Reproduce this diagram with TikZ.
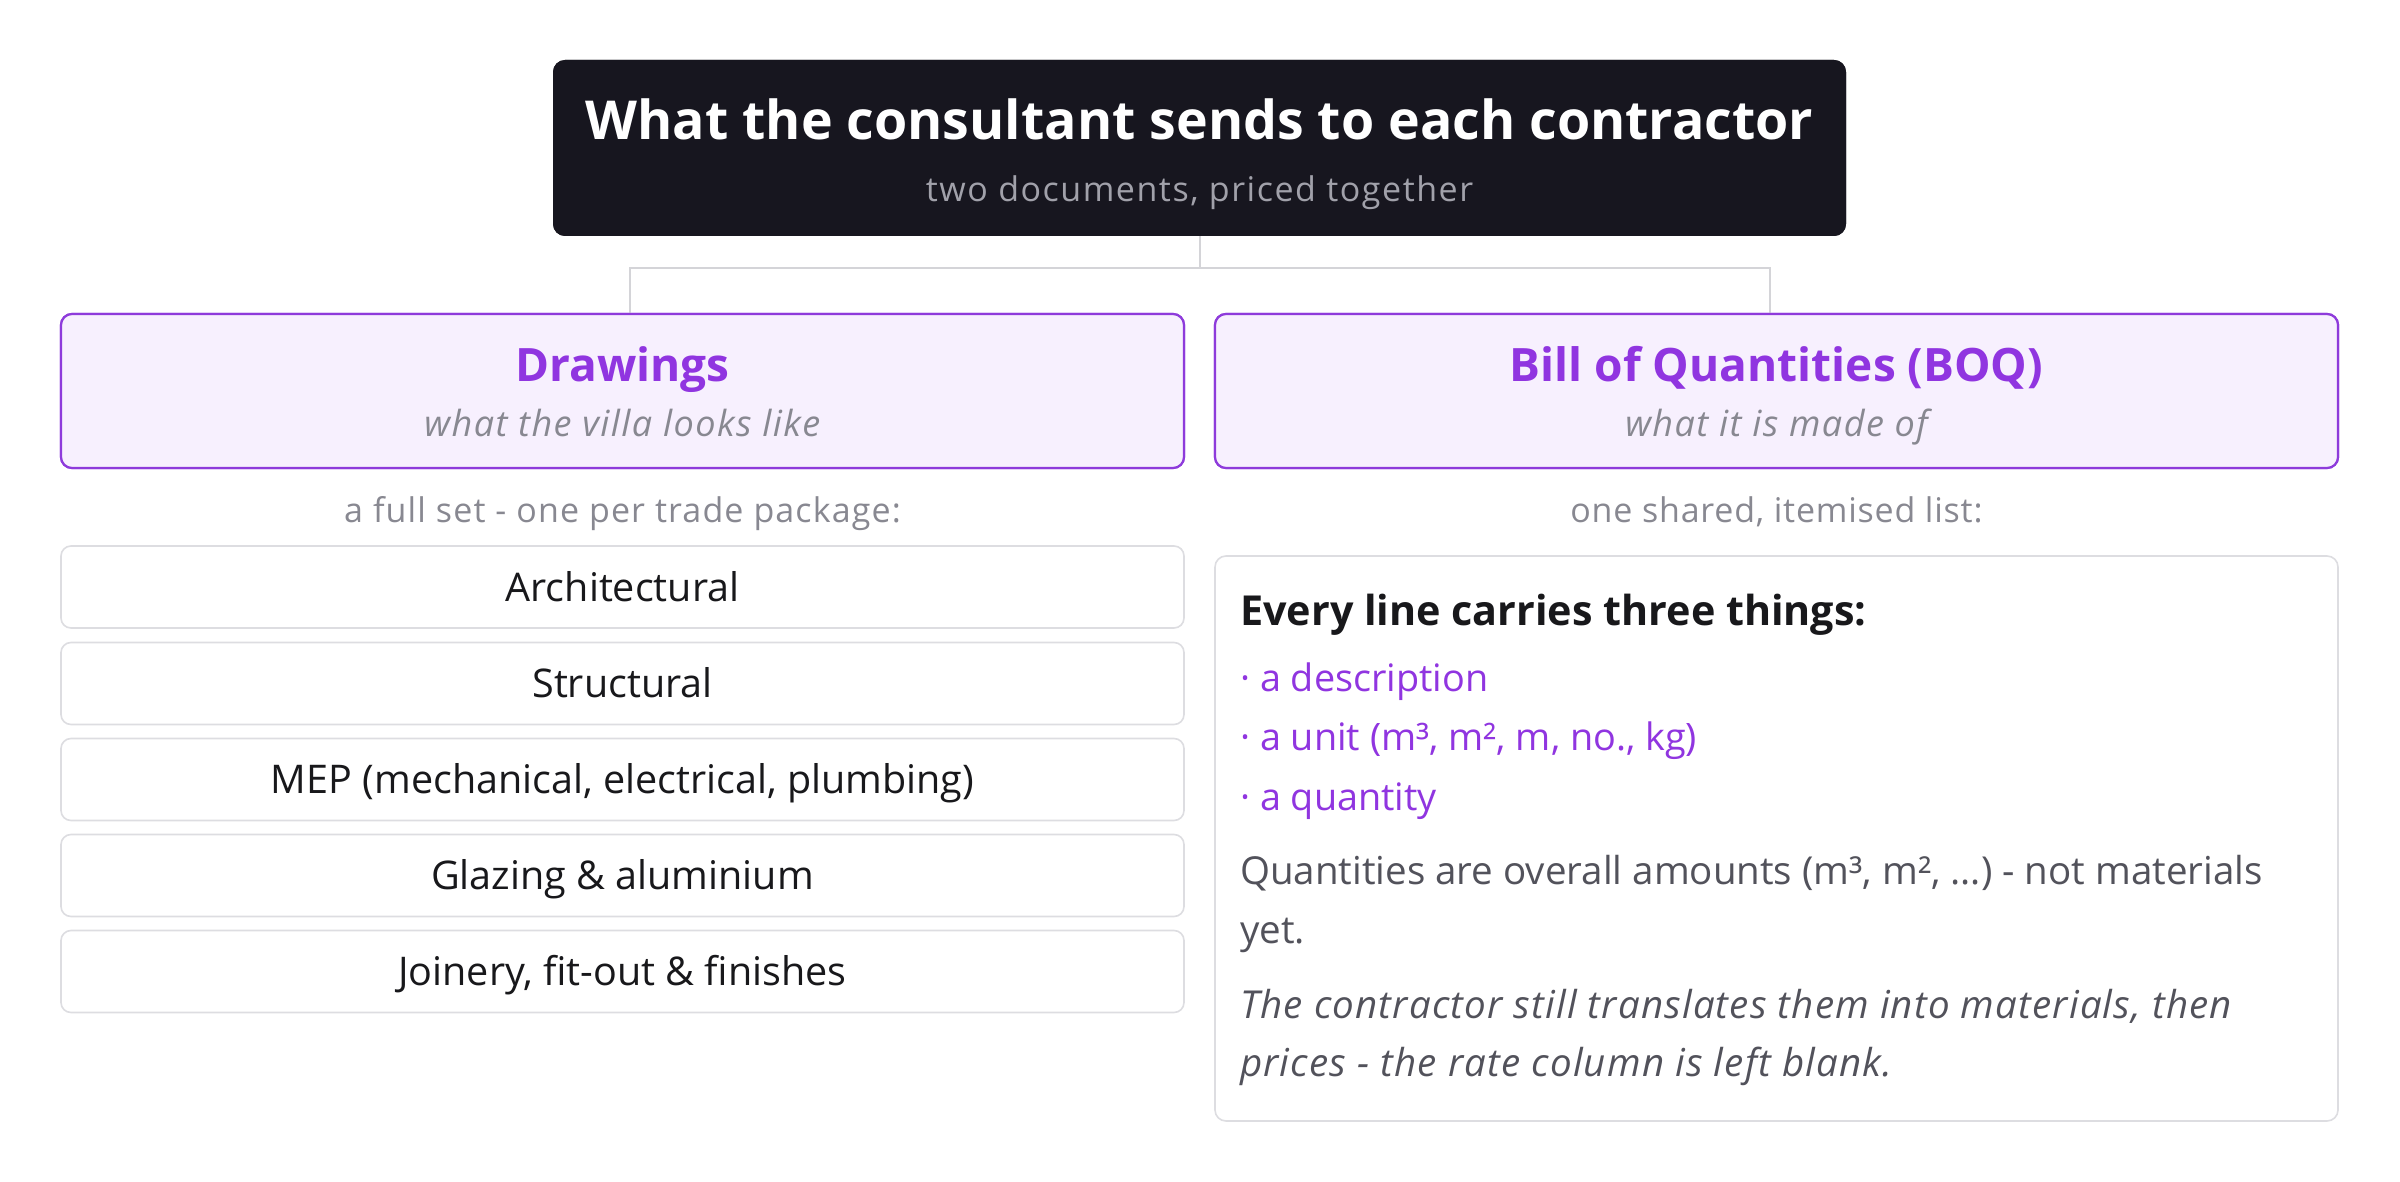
\documentclass[tikz,border=0pt]{standalone}
\usepackage{fontspec}
\setmainfont{Open Sans}
\definecolor{inkbg}{HTML}{17161F}
\definecolor{subgray}{HTML}{A1A1AA}
\definecolor{purp}{HTML}{9035E0}
\definecolor{purpline}{HTML}{8E3BDB}
\definecolor{lav}{HTML}{F7F0FE}
\definecolor{midgray}{HTML}{888891}
\definecolor{boxline}{HTML}{DDDDE1}
\definecolor{inktext}{HTML}{18181B}
\definecolor{bodygray}{HTML}{52525B}
\definecolor{connline}{HTML}{D4D4D8}
\tikzset{
  fs/.style={font=\fontsize{#1}{#1}\selectfont},
  titlebox/.style={fill=inkbg, rounded corners=12pt, minimum width=1293pt, minimum height=176pt, inner sep=0pt},
  docbox/.style={draw=purpline, line width=2.2pt, fill=lav, rounded corners=11pt, minimum width=1123pt, minimum height=154pt, inner sep=0pt},
  itembox/.style={draw=boxline, line width=1.6pt, fill=white, rounded corners=10pt, minimum width=1123pt, minimum height=82pt, inner sep=0pt, text=inktext, fs=39.5, text height=28pt, text depth=0pt},
  listbox/.style={draw=boxline, line width=1.6pt, fill=white, rounded corners=11pt, minimum width=1123pt, minimum height=565pt, inner sep=0pt},
  conn/.style={draw=connline, line width=2pt},
  lbl/.style={inner sep=0pt, anchor=base},
  boqline/.style={inner sep=0pt, anchor=base west, fs=38.5},
}
\newcommand{\spaced}[1]{\addfontfeature{LetterSpace=#1}}
\begin{document}
\begin{tikzpicture}[x=1pt,y=-1pt]
\useasboundingbox[fill=white] (0,0) rectangle (2400,1182);

% connectors (drawn first)
\node[titlebox] (title) at (1199.5,148) {};
\node[docbox] (draw) at (622.5,391) {};
\node[docbox] (boq) at (1776.5,391) {};
\coordinate (j) at (1199.5,268);
\draw[conn] (title.south) -- (j);
\draw[conn] (j) -| ([xshift=7.5pt]draw.north);
\draw[conn] (j) -| ([xshift=-6.5pt]boq.north);
\node[titlebox] at (title) {};
\node[docbox] at (draw) {};
\node[docbox] at (boq) {};

% title texts
\node[lbl, text=white, fs=53.7] (ttl) at (1199.5,140) {\bfseries What the consultant sends to each contractor};
\node[lbl, text=subgray, fs=34] (tsub) at (1199.5,201.5) {\spaced{4.5}two documents, priced together};

% document headers
\node[lbl, text=purp, fs=46] (dh) at (622.5,381) {\bfseries Drawings};
\node[lbl, text=midgray, fs=36] (ds) at (622.5,436) {\itshape\spaced{4}what the villa looks like};
\node[lbl, text=purp, fs=46] (bh) at (1776.5,381) {\bfseries Bill of Quantities (BOQ)};
\node[lbl, text=midgray, fs=36] (bs) at (1776.5,436) {\itshape\spaced{4}what it is made of};

\node[lbl, text=midgray, fs=34] (dl) at (622.5,522.5) {\spaced{3.3}a full set - one per trade package:};
\node[lbl, text=midgray, fs=34] (bl) at (1776.5,522.5) {\spaced{2.3}one shared, itemised list:};

% drawing packages
\node[itembox] (i1) at (622.5,587) {Architectural};
\node[itembox] (i2) at (622.5,683.5) {Structural};
\node[itembox] (i3) at (622.5,779.5) {MEP (mechanical, electrical, plumbing)};
\node[itembox] (i4) at (622.5,875.5) {Glazing \& aluminium};
\node[itembox] (i5) at (622.5,971.5) {Joinery, fit-out \& finishes};

% BOQ list
\node[listbox] (list) at (1776.5,838.5) {};
\node[boqline, text=inktext, fs=41.3] (l1) at (1240,625) {\bfseries Every line carries three things:};
\node[boqline, text=purp, fs=37.8] (l2) at (1240,691) {· a description};
\node[boqline, text=purp, fs=37.8] (l3) at (1240,750.5) {· a unit (m³, m², m, no., kg)};
\node[boqline, text=purp, fs=37.8] (l4) at (1240,810) {· a quantity};
\node[boqline, text=bodygray] (l5) at (1240,884.5) {Quantities are overall amounts (m³, m², …) - not materials};
\node[boqline, text=bodygray] (l6) at (1240,943.5) {yet.};
\node[boqline, text=bodygray] (l7) at (1240,1018) {\itshape\spaced{3}The contractor still translates them into materials, then};
\node[boqline, text=bodygray] (l8) at (1240,1076) {\itshape\spaced{3}prices - the rate column is left blank.};
\end{tikzpicture}
\end{document}
